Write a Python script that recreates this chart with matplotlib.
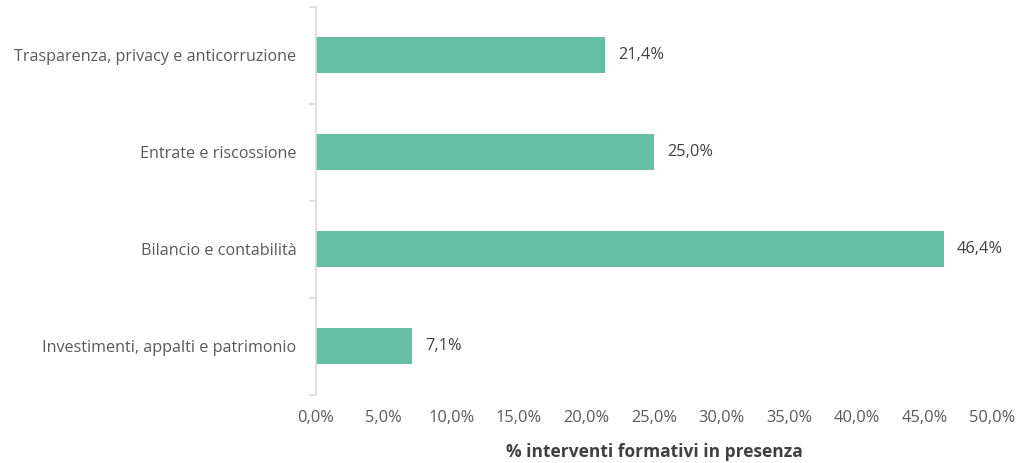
import matplotlib.pyplot as plt
from matplotlib.ticker import FuncFormatter

categorie = ["Investimenti, appalti e patrimonio", "Bilancio e contabilità",
             "Entrate e riscossione", "Trasparenza, privacy e anticorruzione"]
valori = [7.1, 46.4, 25.0, 21.4]

plt.rcParams['font.family'] = ['Open Sans', 'DejaVu Sans']

fig = plt.figure(figsize=(10.19, 4.63), dpi=100)
ax = fig.add_axes([0.310, 0.147, 0.664, 0.838])

pos = range(len(categorie))
ax.barh(pos, valori, height=0.37, color="#64BFA4")

for p, v in zip(pos, valori):
    ax.text(v + 0.95, p, f"{v:.1f}%".replace(".", ","), va="center", ha="left",
            fontsize=11.8, color="#404040")

ax.set_xlim(0, 50)
ax.set_ylim(-0.5, len(categorie) - 0.5)
ax.set_xticks(range(0, 51, 5))
ax.xaxis.set_major_formatter(FuncFormatter(lambda x, _: f"{x:.1f}%".replace(".", ",")))
ax.set_yticks(list(pos))
ax.set_yticklabels(categorie)
ax.set_yticks([i - 0.5 for i in range(len(categorie) + 1)], minor=True)

ax.tick_params(axis="y", which="major", length=0, pad=14, labelsize=11.6, labelcolor="#595959")
ax.tick_params(axis="y", which="minor", length=5, color="#D9D9D9", width=1.2)
ax.tick_params(axis="x", length=0, pad=11, labelsize=11.8, labelcolor="#595959")

for s in ["top", "right", "bottom"]:
    ax.spines[s].set_visible(False)
ax.spines["left"].set_color("#D9D9D9")
ax.spines["left"].set_linewidth(1.2)

ax.set_xlabel("% interventi formativi in presenza", fontsize=12.5, fontweight="bold",
              color="#404040", labelpad=12)

fig.savefig("out.png", dpi=100)
